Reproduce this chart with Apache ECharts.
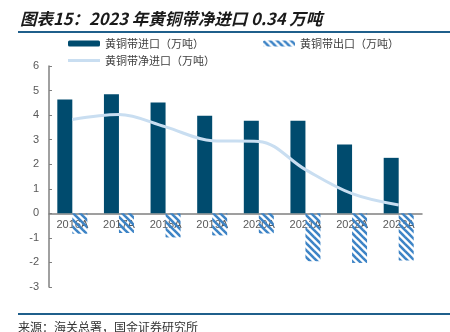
<!DOCTYPE html>
<html>
<head>
<meta charset="utf-8">
<style>
  html, body { margin: 0; padding: 0; background: #fff; }
  #chart { width: 450px; height: 332px; }
</style>
<script src="https://cdn.jsdelivr.net/npm/echarts@6/dist/echarts.min.js"></script>
</head>
<body>
<div id="chart"></div>
<script>
// Brass strip trade, 10k tonnes
const years = ['2016A', '2017A', '2018A', '2019A', '2020A', '2021A', '2022A', '2023A'];
const importVals = [4.64, 4.85, 4.51, 3.97, 3.77, 3.77, 2.80, 2.26];
const exportVals = [-0.83, -0.80, -0.98, -0.90, -0.82, -1.95, -2.02, -1.92];
const netVals = [3.82, 4.02, 3.52, 2.96, 2.93, 1.78, 0.80, 0.34];
const yTicks = { min: -3, max: 6, step: 1 };

const names = ['黄铜带进口（万吨）', '黄铜带出口（万吨）', '黄铜带净进口（万吨）'];

// plot box
const gridTop = 66, gridBottom = 45, chartH = 332;
const plotH = chartH - gridTop - gridBottom;
const zeroOffset = plotH * (0 - yTicks.min) / (yTicks.max - yTicks.min);

// diagonal hatch (transparent gaps) for the export bars
function hatch() {
  const c = document.createElement('canvas');
  const s = 7;
  c.width = s; c.height = s;
  const g = c.getContext('2d');
  g.strokeStyle = '#3d84c6';
  g.lineWidth = 2.6;
  for (let k = -1; k <= 1; k++) {
    g.beginPath();
    g.moveTo(k * s - 1, -1);
    g.lineTo(k * s + s + 1, s + 1);
    g.stroke();
  }
  return c;
}
const hatchFill = { image: hatch(), repeat: 'repeat' };

const chart = echarts.init(document.getElementById('chart'), null, { renderer: 'canvas' });
const labelFont = { color: '#595959', fontSize: 11, fontFamily: 'Liberation Sans, Arial, sans-serif' };
const legendText = { color: '#404040', fontSize: 11, fontFamily: 'Noto Sans CJK SC' };

chart.setOption({
  animation: false,
  backgroundColor: '#fff',
  graphic: [
    {
      type: 'text', x: 20, y: 19,
      style: {
        text: '图表15：2023 年黄铜带净进口 0.34 万吨',
        font: 'italic bold 16.5px "Noto Sans CJK SC"',
        fill: '#1a1a1a',
        verticalAlign: 'middle'
      }
    },
    { type: 'rect', shape: { x: 18, y: 31, width: 432, height: 2 }, style: { fill: '#1f5f8b' } },
    { type: 'rect', shape: { x: 18, y: 313, width: 432, height: 2 }, style: { fill: '#1f5f8b' } },
    {
      type: 'text', x: 18, y: 327,
      style: {
        text: '来源：海关总署，国金证券研究所',
        font: '12px "Noto Sans CJK SC"',
        fill: '#333',
        verticalAlign: 'middle'
      }
    }
  ],
  legend: [
    {
      data: [names[0]],
      left: 68, top: 38, padding: 0,
      itemWidth: 32, itemHeight: 6,
      textStyle: legendText
    },
    {
      data: [names[1]],
      left: 263, top: 38, padding: 0,
      itemWidth: 32, itemHeight: 6,
      textStyle: legendText
    },
    {
      data: [{ name: names[2], icon: 'rect' }],
      left: 68, top: 55, padding: 0,
      itemWidth: 32, itemHeight: 3,
      textStyle: legendText
    }
  ],
  grid: { left: 49, right: 28, top: gridTop, bottom: gridBottom, containLabel: false },
  xAxis: {
    type: 'category',
    data: years,
    position: 'bottom',
    offset: -zeroOffset,
    axisLine: { onZero: false, lineStyle: { color: '#808080', width: 1.5 } },
    axisTick: { inside: true, length: 3, lineStyle: { color: '#808080' } },
    axisLabel: Object.assign({ margin: 6 }, labelFont)
  },
  yAxis: {
    type: 'value',
    min: yTicks.min, max: yTicks.max, interval: yTicks.step,
    axisLine: { show: true, lineStyle: { color: '#808080', width: 1.5 } },
    axisTick: { show: true, inside: true, length: 3, lineStyle: { color: '#808080' } },
    splitLine: { show: false },
    axisLabel: Object.assign({ margin: 10 }, labelFont)
  },
  series: [
    {
      name: names[0], type: 'bar', data: importVals,
      barWidth: 15, barGap: '0%',
      itemStyle: { color: '#004b6e' }
    },
    {
      name: names[1], type: 'bar', data: exportVals,
      barWidth: 15, barGap: '0%',
      itemStyle: { color: hatchFill }
    },
    {
      name: names[2], type: 'line', data: netVals,
      smooth: 0.35, symbol: 'none',
      lineStyle: { color: '#c9def1', width: 3 },
      itemStyle: { color: '#c9def1' },
      z: 4
    }
  ]
});
</script>
</body>
</html>
